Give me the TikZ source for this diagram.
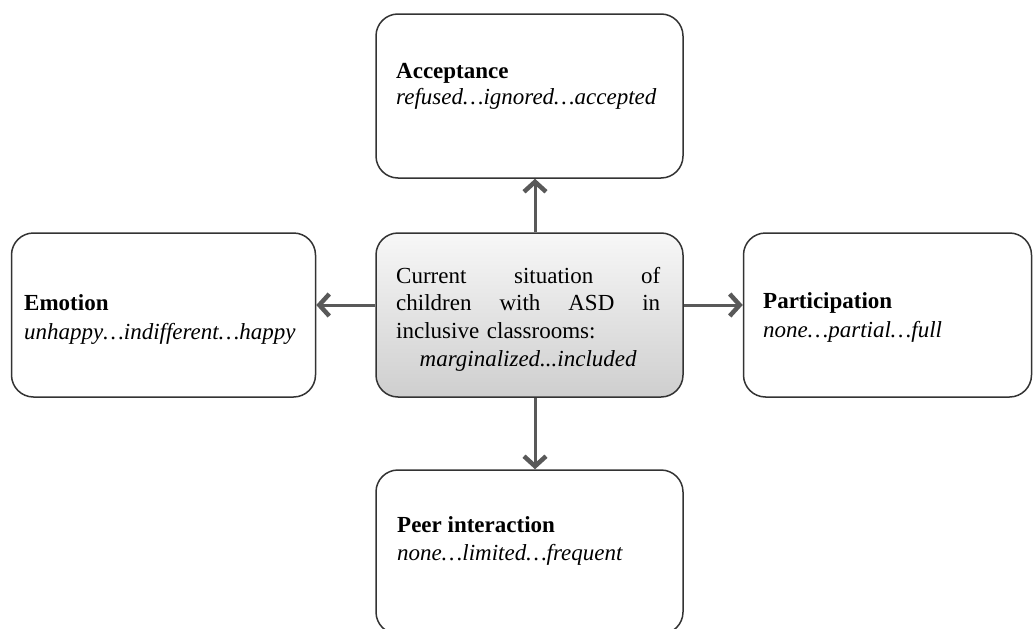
\documentclass[tikz,border=0pt]{standalone}
\usepackage{fontspec}
\setmainfont{Liberation Serif}
\usetikzlibrary{arrows.meta}
\definecolor{edgegray}{HTML}{333333}
\definecolor{arrowgray}{HTML}{595959}
\newcommand{\fullline}[1]{\hbox to 264pt{#1}}
\begin{document}
\begin{tikzpicture}[x=1pt,y=-1pt,
  every node/.style={font=\fontsize{23}{27.7}\selectfont},
  box/.style={draw=edgegray, line width=1.5pt, rounded corners=22pt,
    minimum width=307pt, minimum height=164pt, inner sep=0pt},
  centerbox/.style={box, top color=gray!6, bottom color=gray!38},
  label/.style={anchor=base west, inner sep=0pt},
  arr/.style={draw=arrowgray, line width=3pt,
    -{Straight Barb[length=10pt,width=22pt,line width=4.5pt]}}]
\useasboundingbox (0,0) rectangle (1034,629);
\clip (0,0) rectangle (1034,629);

% boxes
\node[box] (acc) at (529.5,96) {};
\node[centerbox] (ctr) at (529.5,315) {};
\node[box, minimum width=304pt] (emo) at (163.5,315) {};
\node[box, minimum width=288pt] (par) at (887.5,315) {};
\node[box] (peer) at (529.5,552) {};

% texts
\node[label] (accT) at (396,78) {\textbf{Acceptance}};
\node[label] (accS) at (396,104) {\textit{refused…ignored…accepted}};
\node[label] (emoT) at (24,310) {\textbf{Emotion}};
\node[label] (emoS) at (24,339) {\textit{unhappy…indifferent…happy}};
\node[label] (parT) at (763,308) {\textbf{Participation}};
\node[label] (parS) at (763,337) {\textit{none…partial…full}};
\node[label] (peerT) at (397,532) {\textbf{Peer interaction}};
\node[label] (peerS) at (397,560) {\textit{none…limited…frequent}};
\node[anchor=base west, inner sep=0pt, text width=264pt] (ctrT) at (396,283)
  {\fullline{Current\hfill situation\hfill of}
   \fullline{children\hfill with\hfill ASD\hfill in}
   \fullline{inclusive classrooms:\hfill}
   \fullline{\hfill\textit{marginalized...included}\hfill}};

% connectors
\draw[arr] ([xshift=5.5pt]ctr.north) -- ([xshift=5.5pt]acc.south);
\draw[arr] ([xshift=5.5pt]ctr.south) -- ([xshift=5.5pt]peer.north);
\draw[arr] ([yshift=10pt]ctr.west) -- ([yshift=10pt]emo.east);
\draw[arr] ([yshift=10pt]ctr.east) -- ([yshift=10pt]par.west);
\end{tikzpicture}
\end{document}
